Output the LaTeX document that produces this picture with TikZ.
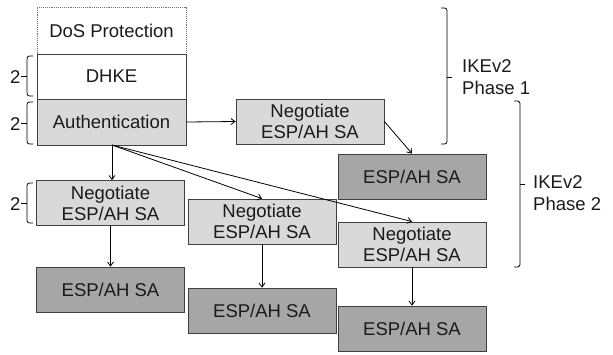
\documentclass[tikz,border=0pt]{standalone}
\usepackage{fontspec}
\setmainfont{Liberation Sans}
\usetikzlibrary{arrows.meta}
\definecolor{lightbox}{HTML}{D9D9D9}
\definecolor{darkbox}{HTML}{A6A6A6}
\definecolor{edgegray}{HTML}{404040}
\definecolor{txt}{HTML}{1A1A1A}
\tikzset{
  base/.style={minimum width=148pt, minimum height=45pt, inner sep=0pt, align=center,
    font=\fontsize{18.5}{21}\selectfont, text=txt},
  plainbox/.style={base, draw=edgegray, line width=0.8pt, fill=white},
  dosbox/.style={base, draw=gray!90!black, densely dotted, line width=0.9pt},
  negbox/.style={base, draw=edgegray, line width=0.8pt, fill=lightbox},
  sabox/.style={base, draw=edgegray, line width=0.8pt, fill=darkbox},
  conn/.style={draw=black, line width=0.8pt, -{Straight Barb[length=4pt,width=6pt]}},
  brk/.style={draw=black, line width=0.8pt, rounded corners=2.5pt},
  lbl/.style={font=\fontsize{18.5}{22}\selectfont, text=txt, inner sep=0pt, align=left}
}
\begin{document}
\begin{tikzpicture}[x=1pt,y=-1pt]
\useasboundingbox (0,0) rectangle (613,354);
% left stack
\node[dosbox, minimum width=149pt, minimum height=47pt] (dos) at (111.5,30.5) {DoS Protection};
\node[plainbox, minimum width=149pt] (dhke) at (111.5,76.5) {DHKE};
\node[negbox, minimum width=149pt, minimum height=46pt] (auth) at (111.5,122) {Authentication};
% negotiation boxes
\node[negbox] (negA) at (110.5,203) {Negotiate\\ESP/AH SA};
\node[sabox] (saA) at (110.5,289.5) {ESP/AH SA};
\node[negbox] (negT) at (310,121.5) {Negotiate\\ESP/AH SA};
\node[sabox] (saT) at (412,176.5) {ESP/AH SA};
\node[negbox] (negB) at (262,221.5) {Negotiate\\ESP/AH SA};
\node[sabox] (saB) at (262,310.5) {ESP/AH SA};
\node[negbox] (negC) at (412,244.5) {Negotiate\\ESP/AH SA};
\node[sabox] (saC) at (412,328.5) {ESP/AH SA};
% connectors
\coordinate (fan) at (112,145);
\draw[conn] (auth.east) -- (negT.west);
\draw[conn] (negT.east) -- (saT.north);
\draw[conn] (fan) -- (negA.north -| fan);
\draw[conn] (fan) -- (negB.north);
\draw[conn] (fan) -- (negC.north);
\draw[conn] (negA) -- (saA);
\draw[conn] (negB) -- (saB);
\draw[conn] (negC) -- (saC);
% left brackets
\draw[brk] (33,56) -| (27,76) |- (33,96);
\draw[brk] (27,76) -- (21,76);
\node[lbl, anchor=east] (n1) at (20.5,77) {2};
\draw[brk] (33,102) -| (27,123) |- (33,144);
\draw[brk] (27,123) -- (21,123);
\node[lbl, anchor=east] (n2) at (20.5,124) {2};
\draw[brk] (33,183) -| (27,203) |- (33,223);
\draw[brk] (27,203) -- (21,203);
\node[lbl, anchor=east] (n3) at (20.5,204) {2};
% right brackets
\draw[brk] (441,8) -| (447,77) |- (441,144);
\draw[brk] (447,77) -- (452,77);
\node[lbl, anchor=west] (p1) at (462,77) {IKEv2\\Phase 1};
\draw[brk] (514,101) -| (520,184) |- (514,267);
\draw[brk] (520,184) -- (525,184);
\node[lbl, anchor=west] (p2) at (533,193) {IKEv2\\Phase 2};
\end{tikzpicture}
\end{document}
